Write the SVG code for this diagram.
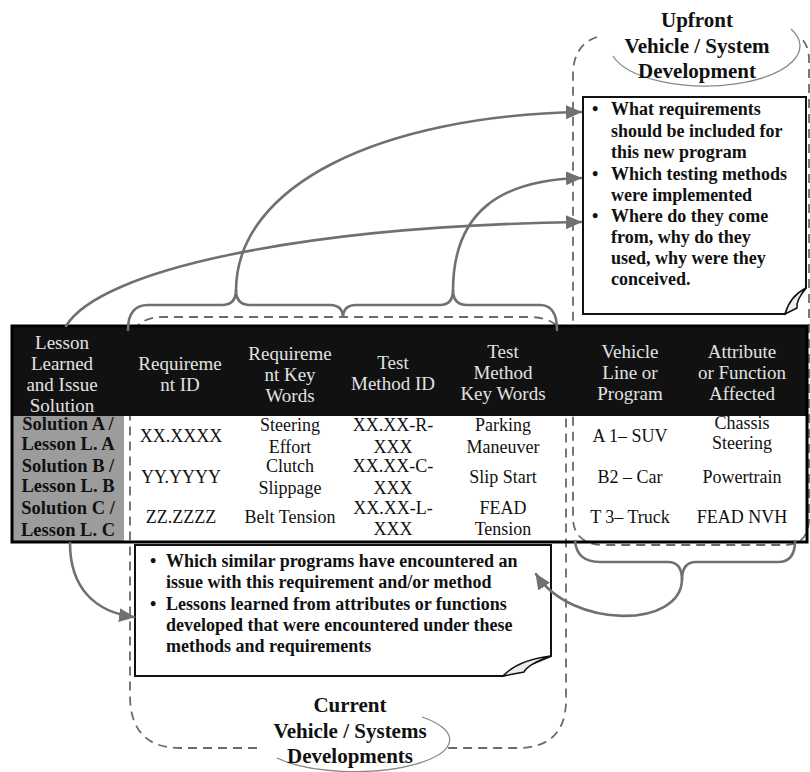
<svg xmlns="http://www.w3.org/2000/svg" width="810" height="772" viewBox="0 0 810 772">
<defs>
<marker id="ah" markerUnits="userSpaceOnUse" markerWidth="18" markerHeight="16" refX="15" refY="7" orient="auto">
<path d="M0,0 L16,7 L0,14 Z" fill="#707070"/>
</marker>
<style>
text{font-family:"Liberation Serif","Times New Roman",serif;}
.hd{fill:#e2e2e2;font-size:19px;text-anchor:middle;}
.cell{fill:#111;font-size:18px;text-anchor:middle;}
.sol{fill:#111;font-size:18.5px;font-weight:bold;text-anchor:middle;}
.note{fill:#111;font-size:18px;font-weight:bold;}
.title{fill:#111;font-size:21px;font-weight:bold;text-anchor:middle;}
.con{fill:none;stroke:#707070;stroke-width:2.6;stroke-linecap:round;}
.dash{fill:none;stroke:#6a6a6a;stroke-width:1.8;stroke-dasharray:9 6;}
.ell{fill:none;stroke:#888;stroke-width:1.3;}
.box{fill:#fff;stroke:#111;stroke-width:2;}
.flap{fill:#ececec;stroke:#111;stroke-width:1.5;}
</style>
</defs>
<rect width="810" height="772" fill="#fff"/>

<g id="regions">
<path class="dash" d="M257,748 L180,748 Q130,748 130,695 L130,350 Q130,317 163,317 L528,317 Q566,317 566,350 L566,700 Q566,748 517,748 L443,748"/>
<path class="dash" d="M597,37 Q573,45 573,75 L573,520 Q575,545 605,545 L785,545 Q808,545 809,520 L809,60 Q809,45 800,37"/>
</g>

<g id="table">
<rect x="12" y="326" width="795" height="90" fill="#111"/>
<rect x="12" y="416" width="112" height="126" fill="#9c9c9c"/>
<rect x="12" y="326" width="795" height="216" fill="none" stroke="#000" stroke-width="3"/>
<text class="hd" x="62" y="349">Lesson</text>
<text class="hd" x="62" y="370">Learned</text>
<text class="hd" x="62" y="391">and Issue</text>
<text class="hd" x="62" y="412">Solution</text>
<text class="hd" x="180" y="370">Requireme</text>
<text class="hd" x="180" y="391">nt ID</text>
<text class="hd" x="290" y="360">Requireme</text>
<text class="hd" x="290" y="381">nt Key</text>
<text class="hd" x="290" y="402">Words</text>
<text class="hd" x="393" y="369">Test</text>
<text class="hd" x="393" y="390">Method ID</text>
<text class="hd" x="503" y="358">Test</text>
<text class="hd" x="503" y="379">Method</text>
<text class="hd" x="503" y="400">Key Words</text>
<text class="hd" x="630" y="358">Vehicle</text>
<text class="hd" x="630" y="379">Line or</text>
<text class="hd" x="630" y="400">Program</text>
<text class="hd" x="742" y="358">Attribute</text>
<text class="hd" x="742" y="379">or Function</text>
<text class="hd" x="742" y="400">Affected</text>

<text class="sol" x="68" y="430">Solution A /</text>
<text class="sol" x="68" y="450">Lesson L. A</text>
<text class="sol" x="68" y="472">Solution B /</text>
<text class="sol" x="68" y="492">Lesson L. B</text>
<text class="sol" x="68" y="514">Solution C /</text>
<text class="sol" x="68" y="536">Lesson L. C</text>

<text class="cell" x="181" y="442">XX.XXXX</text>
<text class="cell" x="290" y="431">Steering</text>
<text class="cell" x="290" y="453">Effort</text>
<text class="cell" x="393" y="431">XX.XX-R-</text>
<text class="cell" x="393" y="453">XXX</text>
<text class="cell" x="503" y="431">Parking</text>
<text class="cell" x="503" y="453">Maneuver</text>
<text class="cell" x="630" y="442">A 1– SUV</text>
<text class="cell" x="742" y="429">Chassis</text>
<text class="cell" x="742" y="449">Steering</text>

<text class="cell" x="181" y="483">YY.YYYY</text>
<text class="cell" x="290" y="472">Clutch</text>
<text class="cell" x="290" y="494">Slippage</text>
<text class="cell" x="393" y="472">XX.XX-C-</text>
<text class="cell" x="393" y="494">XXX</text>
<text class="cell" x="503" y="483">Slip Start</text>
<text class="cell" x="630" y="483">B2 – Car</text>
<text class="cell" x="742" y="483">Powertrain</text>

<text class="cell" x="181" y="523">ZZ.ZZZZ</text>
<text class="cell" x="290" y="523">Belt Tension</text>
<text class="cell" x="393" y="514">XX.XX-L-</text>
<text class="cell" x="393" y="535">XXX</text>
<text class="cell" x="503" y="514">FEAD</text>
<text class="cell" x="503" y="535">Tension</text>
<text class="cell" x="630" y="523">T 3– Truck</text>
<text class="cell" x="742" y="523">FEAD NVH</text>
</g>

<g id="upfront-note">
<path class="box" d="M583,97 L806,97 L806,288 L785,314 L583,314 Z"/>
<path class="flap" d="M785,314 Q790,296 806,288 Q796,300 797,308 Z"/>
<text class="note" x="592" y="115">•</text><text class="note" x="611" y="115">What requirements</text>
<text class="note" x="611" y="137">should be included for</text>
<text class="note" x="611" y="158">this new program</text>
<text class="note" x="592" y="180">•</text><text class="note" x="611" y="180">Which testing methods</text>
<text class="note" x="611" y="201">were implemented</text>
<text class="note" x="592" y="222">•</text><text class="note" x="611" y="222">Where do they come</text>
<text class="note" x="611" y="243">from, why do they</text>
<text class="note" x="611" y="264">used, why were they</text>
<text class="note" x="611" y="285">conceived.</text>
</g>

<g id="current-note">
<path class="box" d="M135,545 L551,545 L551,656 L503,676 L135,676 Z"/>
<path class="flap" d="M503,676 Q518,660 551,656 Q528,664 524,672 Z"/>
<text class="note" x="150" y="567">•</text><text class="note" x="166" y="567">Which similar programs have encountered an</text>
<text class="note" x="166" y="588">issue with this requirement and/or method</text>
<text class="note" x="150" y="610">•</text><text class="note" x="166" y="610">Lessons learned from attributes or functions</text>
<text class="note" x="166" y="631">developed that were encountered under these</text>
<text class="note" x="166" y="652">methods and requirements</text>
</g>

<g id="upfront-title">
<path class="ell" d="M613,56 A95,40 0 1 0 791,29"/>
<text class="title" x="697" y="27">Upfront</text>
<text class="title" x="697" y="53">Vehicle / System</text>
<text class="title" x="697" y="78">Development</text>
</g>

<g id="current-title">
<path class="ell" d="M422,717 A95,32 0 1 1 277,758"/>
<text class="title" x="350" y="712">Current</text>
<text class="title" x="350" y="738">Vehicle / Systems</text>
<text class="title" x="350" y="763">Developments</text>
</g>

<g id="connectors">
<path class="con" d="M128,330 Q128,305 148,305 L222,305 Q236,305 236,290 Q236,305 250,305 L330,305 Q343,305 343,318 Q343,305 356,305 L440,305 Q453,305 453,290 Q453,305 467,305 L540,305 Q557,305 557,330"/>
<path class="con" d="M236,291 C236,185 380,116 581,112" marker-end="url(#ah)"/>
<path class="con" d="M453,291 C453,212 500,180 581,178" marker-end="url(#ah)"/>
<path class="con" d="M66,326 C100,270 300,226 581,222" marker-end="url(#ah)"/>
<path class="con" d="M70,543 C70,588 95,612 134,617" marker-end="url(#ah)"/>
<path class="con" d="M575,541 Q577,562 600,562 L668,562 Q682,562 682,580 Q682,562 696,562 L778,562 Q795,562 795,541"/>
<path class="con" d="M682,579 C682,628 572,630 536,574" marker-end="url(#ah)"/>
</g>
</svg>
